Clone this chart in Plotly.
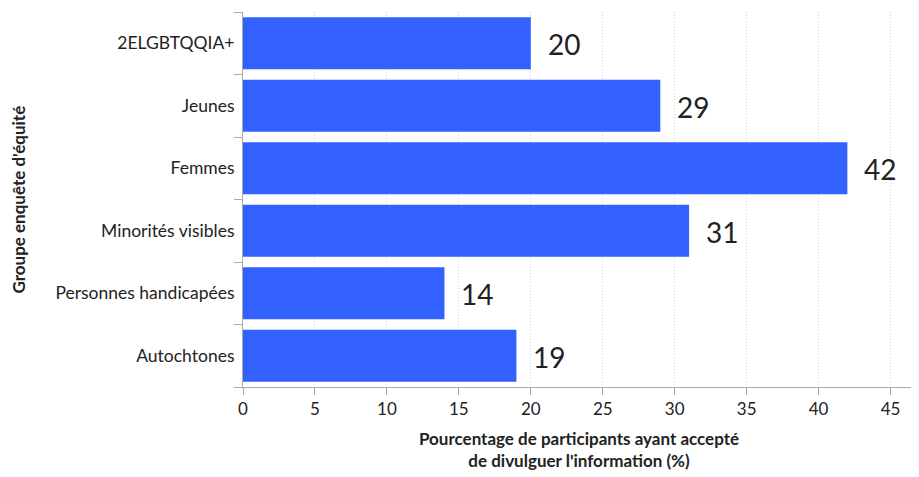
import plotly.graph_objects as go

categories = ["2ELGBTQQIA+", "Jeunes", "Femmes", "Minorités visibles", "Personnes handicapées", "Autochtones"]
values = [20, 29, 42, 31, 14, 19]
x_ticks = [0, 5, 10, 15, 20, 25, 30, 35, 40, 45]

FONT = "Lato, Roboto, sans-serif"
BAR = "#3361FF"

fig = go.Figure(go.Bar(
    x=values, y=categories, orientation="h",
    marker=dict(color=BAR, line=dict(width=0)),
    hoverinfo="x+y",
))

for c, v in zip(categories, values):
    fig.add_annotation(x=v, y=c, text=str(v), showarrow=False,
                       xanchor="left", yanchor="middle", xshift=15, yshift=-1,
                       font=dict(family=FONT, size=28, color="#222222"))

fig.add_annotation(xref="paper", yref="paper", x=0, y=0.5, xshift=-225,
                   text="<b>Groupe enquête d'équité</b>", textangle=-90,
                   showarrow=False, xanchor="center", yanchor="middle",
                   font=dict(family=FONT, size=17, color="#222222"))

# page body has an 8px default margin: compensate so the plot lands where the reference has it
fig.update_layout(
    width=911, height=469,
    margin=dict(l=235, r=4, t=4, b=90),
    paper_bgcolor="white", plot_bgcolor="white",
    bargap=0.17,
    showlegend=False,
    font=dict(family=FONT, color="#222222"),
)
fig.update_xaxes(
    range=[0, 46.7], tickvals=x_ticks, ticktext=[str(t) for t in x_ticks],
    showgrid=True, gridcolor="#d4d4d4", griddash="1px,2px", gridwidth=1,
    showline=True, linecolor="#aaaaaa", linewidth=1,
    ticks="outside", ticklen=7, tickcolor="#aaaaaa",
    tickfont=dict(family=FONT, size=17, color="#222222"),
    zeroline=False, automargin=False,
    title=dict(text="<b>Pourcentage de participants ayant accepté<br>de divulguer l'information (%)</b>",
               font=dict(family=FONT, size=17, color="#222222"), standoff=14),
)
fig.update_yaxes(
    categoryorder="array", categoryarray=categories[::-1],
    showline=True, linecolor="#aaaaaa", linewidth=1,
    ticks="outside", ticklen=8, tickcolor="#aaaaaa", tickson="boundaries",
    tickfont=dict(family=FONT, size=17.5, color="#222222"),
    ticklabelstandoff=4,
    showgrid=False, automargin=False,
)
fig.write_html("out.html")
